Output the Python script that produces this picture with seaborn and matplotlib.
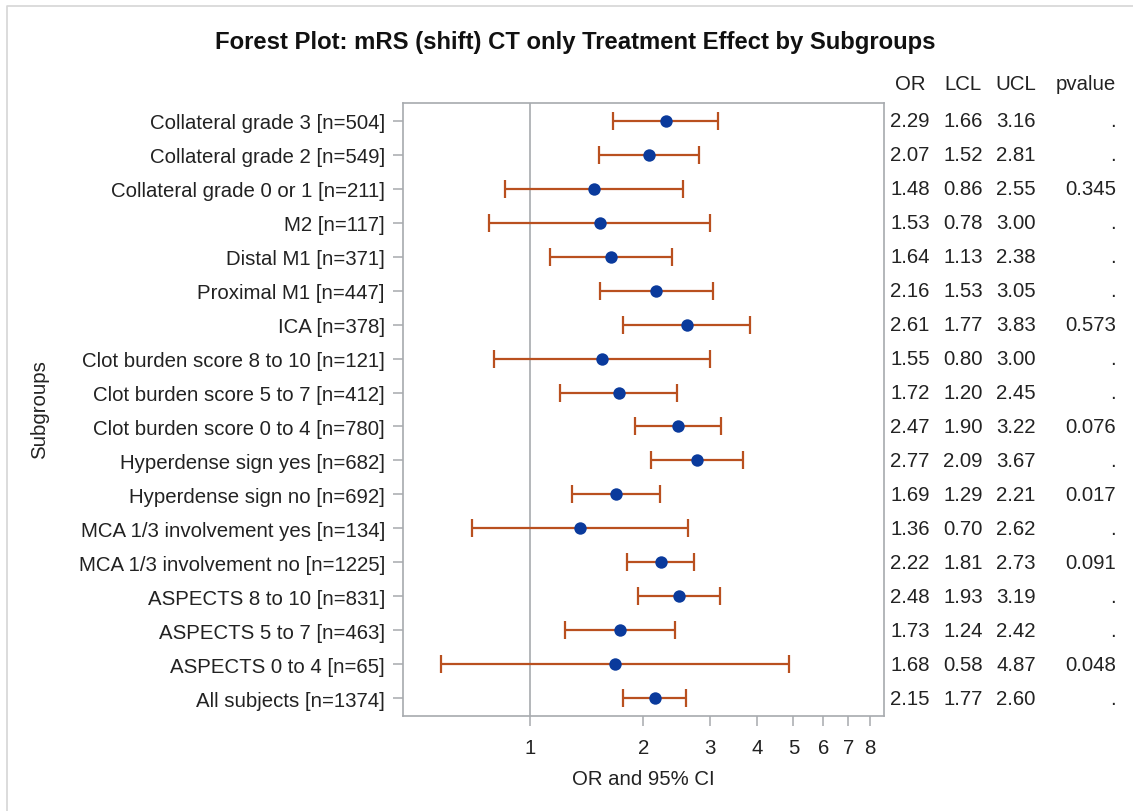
import matplotlib
matplotlib.use('Agg')
import matplotlib.pyplot as plt
import matplotlib.transforms as mtransforms
from matplotlib.lines import Line2D
from matplotlib.ticker import FixedLocator, NullLocator
import numpy as np
import pandas as pd
import seaborn as sns

sns.set_style('white')
plt.rcParams['font.family'] = ['Liberation Sans', 'DejaVu Sans']

# values, top row first
subgroups = [
    "Collateral grade 3 [n=504]",
    "Collateral grade 2 [n=549]",
    "Collateral grade 0 or 1 [n=211]",
    "M2 [n=117]",
    "Distal M1 [n=371]",
    "Proximal M1 [n=447]",
    "ICA [n=378]",
    "Clot burden score 8 to 10 [n=121]",
    "Clot burden score 5 to 7 [n=412]",
    "Clot burden score 0 to 4 [n=780]",
    "Hyperdense sign yes [n=682]",
    "Hyperdense sign no [n=692]",
    "MCA 1/3 involvement yes [n=134]",
    "MCA 1/3 involvement no [n=1225]",
    "ASPECTS 8 to 10 [n=831]",
    "ASPECTS 5 to 7 [n=463]",
    "ASPECTS 0 to 4 [n=65]",
    "All subjects [n=1374]",
]
odds_ratio = [2.29, 2.07, 1.48, 1.53, 1.64, 2.16, 2.61, 1.55, 1.72, 2.47,
              2.77, 1.69, 1.36, 2.22, 2.48, 1.73, 1.68, 2.15]
lcl = [1.66, 1.52, 0.86, 0.78, 1.13, 1.53, 1.77, 0.80, 1.20, 1.90,
       2.09, 1.29, 0.70, 1.81, 1.93, 1.24, 0.58, 1.77]
ucl = [3.16, 2.81, 2.55, 3.00, 2.38, 3.05, 3.83, 3.00, 2.45, 3.22,
       3.67, 2.21, 2.62, 2.73, 3.19, 2.42, 4.87, 2.60]
pvalue = [".", ".", "0.345", ".", ".", ".", "0.573", ".", ".", "0.076",
          ".", "0.017", ".", "0.091", ".", ".", "0.048", "."]
xticks = [1, 2, 3, 4, 5, 6, 7, 8]

df = pd.DataFrame({"group": subgroups, "OR": odds_ratio, "LCL": lcl,
                   "UCL": ucl, "pvalue": pvalue})
df["pos"] = np.arange(len(df))

grey = "#A7AAAE"
txt = "#222222"
err_col = "#B9501F"
dot_col = "#0A3A9C"
fs = 14.7

W, H = 1133, 812
fig = plt.figure(figsize=(W / 100, H / 100), dpi=100)
ax = fig.add_axes([403 / W, 1 - 717 / H, (884 - 403) / W, (717 - 104) / H])

ax.axvline(1, color=grey, lw=1.2, zorder=0)
ax.errorbar(df.OR, df.pos, xerr=[df.OR - df.LCL, df.UCL - df.OR], fmt='none',
            ecolor=err_col, elinewidth=1.6, capsize=6.5, capthick=1.6, zorder=2)
sns.scatterplot(data=df, x="OR", y="pos", ax=ax, s=80, color=dot_col,
                edgecolor=dot_col, linewidth=0, zorder=3, legend=False)

ax.set_xscale('log')
ax.set_xlim(0.46, 8.7)
ax.xaxis.set_major_locator(FixedLocator(xticks))
ax.xaxis.set_minor_locator(NullLocator())
ax.set_xticklabels([str(t) for t in xticks])
ax.set_ylim(len(df) - 0.47, -0.53)
ax.set_yticks(df.pos)
ax.set_yticklabels(df.group)
ax.set_xlabel("")
ax.set_ylabel("")
for s in ax.spines.values():
    s.set_color(grey)
    s.set_linewidth(1.2)
ax.tick_params(axis='y', length=7.2, width=1.1, color=grey, pad=5.8,
               labelsize=fs, labelcolor=txt, left=True)
ax.tick_params(axis='x', length=7.5, width=1.1, color=grey, pad=8,
               labelsize=fs, labelcolor=txt, bottom=True)

# statistics table on the right
tr = mtransforms.blended_transform_factory(fig.transFigure, ax.transData)
cols = [("OR", 910, 'center'), ("LCL", 963, 'center'),
        ("UCL", 1016, 'center'), ("pvalue", 1116, 'right')]
for key, xp, ha in cols:
    fig.text(xp / W, 1 - 85 / H, key, ha=ha, va='center', fontsize=fs, color=txt)
    for _, r in df.iterrows():
        v = r[key]
        s = v if isinstance(v, str) else f"{v:.2f}"
        ax.text(xp / W, r.pos, s, transform=tr, ha=ha, va='center',
                fontsize=fs, color=txt, clip_on=False)

fig.text(575 / W, 1 - 42 / H,
         "Forest Plot: mRS (shift) CT only Treatment Effect by Subgroups",
         ha='center', va='center', fontsize=17.2, fontweight='bold', color='#111111')
fig.text(643 / W, 1 - 780 / H, "OR and 95% CI", ha='center', va='center',
         fontsize=fs, color=txt)
fig.text(40 / W, 1 - 410 / H, "Subgroups", ha='center', va='center',
         rotation=90, fontsize=fs, color=txt)

# thin frame of the original graph image
fig.add_artist(Line2D([7 / W, 7 / W, 1], [0, 1 - 7 / H, 1 - 7 / H],
                      transform=fig.transFigure, color='#D6D6D6', lw=1.2))

fig.savefig("out.png", dpi=100)
